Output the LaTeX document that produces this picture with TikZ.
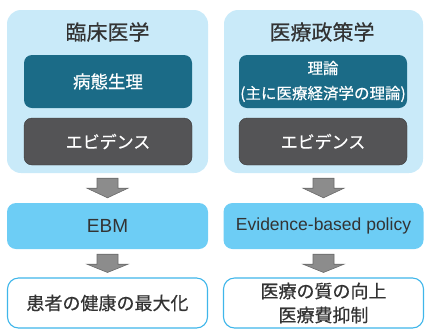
\documentclass[tikz,border=0pt]{standalone}
\usepackage{fontspec}
\setmainfont{Noto Sans CJK JP}[FakeBold=0.4]
\newfontfamily\latinfont{Liberation Sans}
\usetikzlibrary{calc}
\definecolor{outerblue}{HTML}{C9EAF9}
\definecolor{tealbox}{HTML}{1B6B87}
\definecolor{greybox}{HTML}{545456}
\definecolor{midblue}{HTML}{6DCDF5}
\definecolor{edgeblue}{HTML}{3FB6EA}
\definecolor{txt}{HTML}{333333}
\definecolor{arrowfill}{HTML}{8C8C8C}
\definecolor{arrowedge}{HTML}{6A6A6A}
\tikzset{
  outerbox/.style={fill=outerblue, rounded corners=14pt, minimum height=163pt, inner sep=0pt},
  titletext/.style={text=txt, font=\fontsize{21}{24}\selectfont},
  tealnode/.style={fill=tealbox, rounded corners=8pt, minimum width=168pt, minimum height=53pt, text=white, align=center, inner sep=0pt},
  greynode/.style={fill=greybox, draw=greybox!70!black, line width=0.4pt, rounded corners=8pt, minimum width=168pt, minimum height=47pt, text=white, font=\fontsize{17}{20}\selectfont, inner sep=0pt},
  midnode/.style={fill=midblue, rounded corners=9pt, minimum height=46pt, text=txt, font=\latinfont\fontsize{17.5}{20}\selectfont, inner sep=0pt},
  endnode/.style={fill=white, draw=edgeblue, line width=1.1pt, rounded corners=11pt, minimum height=50pt, text=txt, align=center, font=\fontsize{18}{24}\selectfont, inner sep=0pt},
  blockarrow/.style={fill=arrowfill, draw=arrowedge, line width=0.6pt}
}
\newcommand{\blockarr}[2]{%
  \draw[blockarrow] ($(#1.south)+(-10.5,5)$) -- ($(#1.south)+(10.5,5)$) -- ($(#1.south)+(10.5,15)$) -- ($(#1.south)+(20.5,15)$) -- ($(#1.south)!1!(#1.south|-#2.north)+(0,-5)$) -- ($(#1.south)+(-20.5,15)$) -- ($(#1.south)+(-10.5,15)$) -- cycle;}
\begin{document}
\begin{tikzpicture}[x=1pt,y=-1pt]
\useasboundingbox (0,0) rectangle (427,330);
% left column
\node[outerbox, minimum width=201pt] (L) at (107.5,91.5) {};
\node[titletext] (Lt) at (107.5,32) {臨床医学};
\node[tealnode, font=\fontsize{17.5}{20}\selectfont] (Lp) at (108,81.5) {病態生理};
\node[greynode] (Le) at (108,141.5) {エビデンス};
\node[midnode, minimum width=201pt, font=\latinfont\fontsize{19}{20}\selectfont] (Lm) at (107.5,226) {EBM};
\node[endnode, minimum width=200pt] (Lf) at (107.5,303) {患者の健康の最大化};
% right column
\node[outerbox, minimum width=199pt] (R) at (323.5,91.5) {};
\node[titletext] (Rt) at (322,32) {医療政策学};
\node[tealnode, font=\fontsize{15.5}{25}\selectfont] (Rp) at (323,81.5) {理論\\(主に医療経済学の理論)};
\node[greynode] (Re) at (323,141.5) {エビデンス};
\node[midnode, minimum width=200pt] (Rm) at (323.5,226) {Evidence-based policy};
\node[endnode, minimum width=200pt] (Rf) at (323.5,303) {医療の質の向上\\医療費抑制};
% arrows
\blockarr{L}{Lm}
\blockarr{Lm}{Lf}
\blockarr{R}{Rm}
\blockarr{Rm}{Rf}
\end{tikzpicture}
\end{document}
